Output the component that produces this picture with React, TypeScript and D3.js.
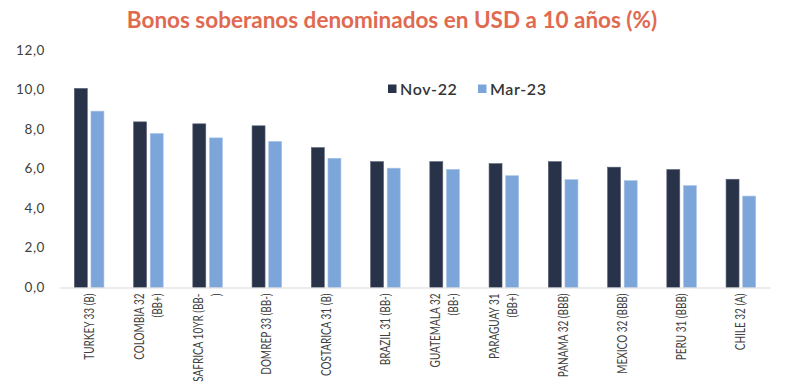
import React, { useEffect, useRef } from 'react';
import * as d3 from 'd3';

// Grouped bars: 10y USD sovereign bond yields, Nov-22 vs Mar-23.

const categories = [
  ['TURKEY 33 (B)'],
  ['COLOMBIA 32', '(BB+)'],
  ['SAFRICA 10YR (BB-', ')'],
  ['DOMREP 33 (BB-)'],
  ['COSTARICA 31 (B)'],
  ['BRAZIL 31 (BB-)'],
  ['GUATEMALA 32', '(BB-)'],
  ['PARAGUAY 31', '(BB+)'],
  ['PANAMA 32 (BBB)'],
  ['MEXICO 32 (BBB)'],
  ['PERU 31 (BBB)'],
  ['CHILE 32 (A)'],
];
const nov22 = [10.06, 8.37, 8.27, 8.17, 7.07, 6.36, 6.36, 6.26, 6.36, 6.08, 5.96, 5.47];
const mar23 = [8.91, 7.78, 7.56, 7.38, 6.53, 6.03, 5.97, 5.65, 5.45, 5.4, 5.15, 4.62];
const seriesNames = ['Nov-22', 'Mar-23'];
const yTicks = [0, 2, 4, 6, 8, 10, 12];

const W = 787;
const H = 389;
const COLORS = ['#28334a', '#7ca5da'];
const FONT = 'Lato, "Open Sans", sans-serif';

const App = () => {
  const svgRef = useRef<SVGSVGElement>(null);

  useEffect(() => {
    const svg = d3.select(svgRef.current);
    svg.selectAll('*').remove();

    const left = 59.5, right = 770.5, top = 50, bottom = 287.5;
    const keys = categories.map((_, i) => String(i));

    const x = d3.scaleBand().domain(keys).range([left, right]).paddingInner(0).paddingOuter(0);
    const x1 = d3.scaleBand().domain(seriesNames).range([x.bandwidth() * 0.25, x.bandwidth() * 0.75]).paddingInner(0.22);
    const y = d3.scaleLinear().domain([0, 12]).range([bottom, top]);

    // title
    svg.append('text')
      .attr('x', 392).attr('y', 28)
      .attr('text-anchor', 'middle')
      .attr('fill', '#e06a50')
      .style('font-family', FONT)
      .style('font-weight', 700)
      .style('font-size', '22.5px')
      .text('Bonos soberanos denominados en USD a 10 años (%)');

    // y labels
    yTicks.forEach(t => {
      svg.append('text')
        .attr('x', 45).attr('y', y(t) + 4.5)
        .attr('text-anchor', 'end')
        .attr('fill', '#404040')
        .style('font-family', FONT)
        .style('font-size', '13.5px')
        .style('letter-spacing', '0.6px')
        .text(d3.format('.1f')(t).replace('.', ','));
    });

    // bars
    const groups = svg.append('g').selectAll('g')
      .data(keys)
      .enter().append('g')
      .attr('transform', k => `translate(${x(k)},0)`);

    groups.selectAll('rect')
      .data(k => {
        const i = +k;
        return [nov22[i], mar23[i]].map((v, s) => ({ v, s }));
      })
      .enter().append('rect')
      .attr('x', d => x1(seriesNames[d.s]) as number)
      .attr('width', x1.bandwidth())
      .attr('y', d => y(d.v))
      .attr('height', d => y(0) - y(d.v))
      .attr('fill', d => COLORS[d.s])
      .attr('stroke', d => (d.s === 0 ? '#5a6275' : '#a9c4e8'))
      .attr('stroke-width', 0.6);

    // baseline
    svg.append('line')
      .attr('x1', left).attr('x2', right)
      .attr('y1', bottom + 0.5).attr('y2', bottom + 0.5)
      .attr('stroke', '#d9d9d9').attr('stroke-width', 1.2);

    // x labels, rotated and horizontally condensed
    categories.forEach((lines, i) => {
      const cx = (x(String(i)) as number) + x.bandwidth() / 2;
      const n = lines.length;
      lines.forEach((ln, j) => {
        const lx = cx + (j - (n - 1) / 2) * 18 + 4.5;
        svg.append('text')
          .attr('transform', `translate(${lx},${bottom + 6}) rotate(-90) scale(0.8,1)`)
          .attr('text-anchor', 'end')
          .attr('fill', '#404040')
          .style('font-family', FONT)
          .style('font-size', '12.5px')
          .text(ln);
      });
    });

    // legend
    const lg = svg.append('g').attr('transform', 'translate(388,89)');
    seriesNames.forEach((name, i) => {
      const ox = i * 90;
      lg.append('rect').attr('x', ox).attr('y', -4.5).attr('width', 8.5).attr('height', 8.5).attr('fill', COLORS[i]);
      lg.append('text')
        .attr('x', ox + 12).attr('y', 5.5)
        .attr('fill', '#353535')
        .style('font-family', FONT)
        .style('font-size', '16px')
        .style('font-weight', 600)
        .style('letter-spacing', '0.6px')
        .text(name);
    });
  }, []);

  return (
    <svg ref={svgRef} width={W} height={H} style={{ position: 'absolute', left: 0, top: 0, background: '#fff' }} />
  );
};

export default App;
